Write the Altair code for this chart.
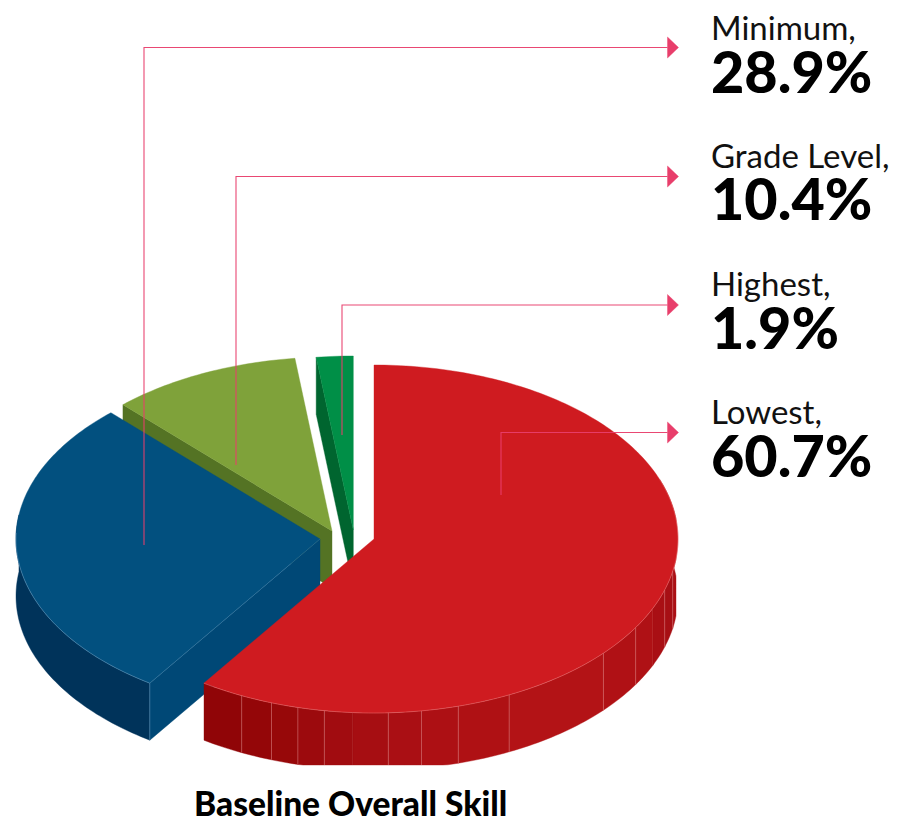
import numpy as np
import pandas as pd
import altair as alt

# --- chart values -------------------------------------------------------
categories = ["Lowest", "Minimum", "Grade Level", "Highest"]
values = [60.7, 28.9, 10.4, 1.9]
top_colors = ["#CF1B20", "#02507F", "#7FA23A", "#008F47"]
cut_colors = [None, "#004876", "#547324", "#00652F"]
wall_colors = [None, "#00335A", None, None]
rim_colors = ["#F08A8A", "#6FA0C4", "#B5CC86", "#7FD0A0"]
label_names = ["Minimum,", "Grade Level,", "Highest,", "Lowest,"]
label_values = ["28.9%", "10.4%", "1.9%", "60.7%"]
title_text = "Baseline Overall Skill"

# shading facets around the red slice's wall (degrees clockwise from 12 o'clock)
facet_edges = [70, 100.7, 107, 113.5, 120.6, 131, 153.6, 163.9, 171, 177.3,
               184, 189.4, 194.5, 199.7, 205.8, 214]
facet_colors = ["#AB1015", "#A70F14", "#A90F14", "#AF1115", "#B01115", "#B31316",
                "#AF1114", "#AD1014", "#AA0F14", "#A60E12", "#A10C10", "#9C0A0D",
                "#970809", "#940608", "#900507"]
facet_lines = [100.7, 107, 120.6, 131, 153.6, 163.9, 171, 177.3, 189.4, 194.5, 199.7, 205.8]

# --- projection of the tilted pie ---------------------------------------
RX, RY, DEPTH = 304, 174, 57
centers = [(374, 539), (320, 539), (332, 531), (353.3, 530)]
CLIP_X, CLIP_Y = 676, 765
angle_trim = [0, -0.4, 0, -0.3, 0]

total = sum(values)
bounds = np.concatenate([[0], np.cumsum(values) / total * 360]) + np.array(angle_trim)


def arc(c, t0, t1, dy=0):
    t = np.radians(np.linspace(t0, t1, max(int(abs(t1 - t0)), 2) + 1))
    return c[0] + RX * np.sin(t), c[1] - RY * np.cos(t) + dy


polys = []


def add(x, y, color):
    pid = len(polys)
    polys.append(pd.DataFrame({"poly": pid, "i": np.arange(len(x)), "x": x, "y": y, "c": color}))


def clipped(x, y):
    return np.minimum(x, CLIP_X), np.minimum(y, CLIP_Y)


def sector(idx):
    c = centers[idx]
    ax, ay = arc(c, bounds[idx], bounds[idx + 1])
    add(np.r_[c[0], ax], np.r_[c[1], ay], top_colors[idx])


def cut(idx, t):
    c = centers[idx]
    x, y = arc(c, t, t)
    x, y = x[0], y[0]
    add(np.array([c[0], x, x, c[0]]), np.array([c[1], y, y + DEPTH, c[1] + DEPTH]), cut_colors[idx])


# green, olive: cut face, then top
cut(3, bounds[3]); sector(3)
cut(2, bounds[2]); sector(2)

# blue: outer wall, cut face, top
c = centers[1]
ax, ay = arc(c, bounds[1], 278)
add(np.r_[ax, ax[::-1]], np.r_[ay, (ay + DEPTH)[::-1]], wall_colors[1])
cut(1, bounds[1])
sector(1)

# red: faceted wall, top
c = centers[0]
for t0, t1, col in zip(facet_edges[:-1], facet_edges[1:], facet_colors):
    ax, ay = arc(c, t0, t1)
    px, py = clipped(np.r_[ax, ax[::-1]], np.r_[ay, (ay + DEPTH)[::-1]])
    add(px, py, col)
sector(0)

# arrowheads
leader_ends = [47.5, 176.5, 305, 432.5]
leader_starts = [(144, 545), (236, 465), (342, 435), (501, 495)]
ARROW_X0, ARROW_X1, ARROW_H = 667.5, 678.5, 10.5
for ye in leader_ends:
    add(np.array([ARROW_X0, ARROW_X1, ARROW_X0]), np.array([ye - ARROW_H, ye, ye + ARROW_H]), "#E83E6B")

poly_df = pd.concat(polys, ignore_index=True)

# thin highlight lines
lines = []


def add_line(x, y, color, op=0.75):
    lines.append(pd.DataFrame({"line": len(lines), "i": np.arange(len(x)), "x": x, "y": y, "c": color, "o": op}))


for t in facet_lines:
    x, y = arc(centers[0], t, t)
    lx, ly = clipped(np.array([x[0], x[0]]), np.array([y[0], y[0] + DEPTH]))
    add_line(lx, ly, "#E08A8A", 0.6)
ax, ay = arc(centers[0], 70, bounds[1])
add_line(ax, ay, rim_colors[0], 0.5)
ax, ay = arc(centers[1], bounds[1], 272)
add_line(ax, ay, rim_colors[1], 0.6)
x, y = arc(centers[1], bounds[1], bounds[1])
add_line(np.array([x[0], centers[1][0]]), np.array([y[0], centers[1][1]]), rim_colors[1], 0.35)
add_line(np.array([x[0], x[0]]), np.array([y[0], y[0] + DEPTH]), rim_colors[1], 0.6)
line_df = pd.concat(lines, ignore_index=True)

# leaders
lead = []
for k, ((sx, sy), ye) in enumerate(zip(leader_starts, leader_ends)):
    lead.append(pd.DataFrame({"k": k, "i": [0, 1, 2], "x": [sx, sx, ARROW_X0], "y": [sy, ye, ye]}))
lead_df = pd.concat(lead, ignore_index=True)

name_df = pd.DataFrame({"x": [711] * 4, "y": [40, 168, 296, 424], "t": label_names})
num_df = pd.DataFrame({"x": [711] * 4, "y": [93, 220, 349, 477], "t": label_values})
title_df = pd.DataFrame({"x": [194], "y": [816], "t": [title_text]})

W, H = 882, 812
X = alt.X("x:Q", scale=alt.Scale(domain=[8, 8 + W], range=[0, W]), axis=None)
Y = alt.Y("y:Q", scale=alt.Scale(domain=[8, 8 + H], range=[0, H]), axis=None)

shapes = alt.Chart(poly_df).mark_line(interpolate="linear-closed", strokeWidth=0.4).encode(
    x=X, y=Y, order="i:Q", detail="poly:N",
    fill=alt.Fill("c:N", scale=None, legend=None),
    stroke=alt.Stroke("c:N", scale=None, legend=None),
)
rims = alt.Chart(line_df).mark_line(strokeWidth=0.8).encode(
    x=X, y=Y, order="i:Q", detail="line:N",
    color=alt.Color("c:N", scale=None, legend=None),
    opacity=alt.Opacity("o:Q", scale=None, legend=None),
)
leaders = alt.Chart(lead_df).mark_line(color="#E83E6B", strokeWidth=1.1, opacity=0.95).encode(
    x=X, y=Y, order="i:Q", detail="k:N"
)
names = alt.Chart(name_df).mark_text(align="left", baseline="alphabetic", font="Lato", fontSize=33,
                                     fontWeight=400, color="#111111").encode(x=X, y=Y, text="t:N")
nums = alt.Chart(num_df).mark_text(align="left", baseline="alphabetic", font="Lato", fontSize=57.5,
                                   fontWeight=900, color="#000000").encode(x=X, y=Y, text="t:N")
title = alt.Chart(title_df).mark_text(align="left", baseline="alphabetic", font="Lato", fontSize=33.5,
                                      fontWeight=900, color="#000000").encode(x=X, y=Y, text="t:N")

chart = alt.layer(shapes, rims, leaders, names, nums, title).properties(
    width=W, height=H, padding=0, autosize=alt.AutoSizeParams(type="none")
).configure_view(stroke=None)

chart.save("out.html", embed_options={"renderer": "svg", "actions": False})
